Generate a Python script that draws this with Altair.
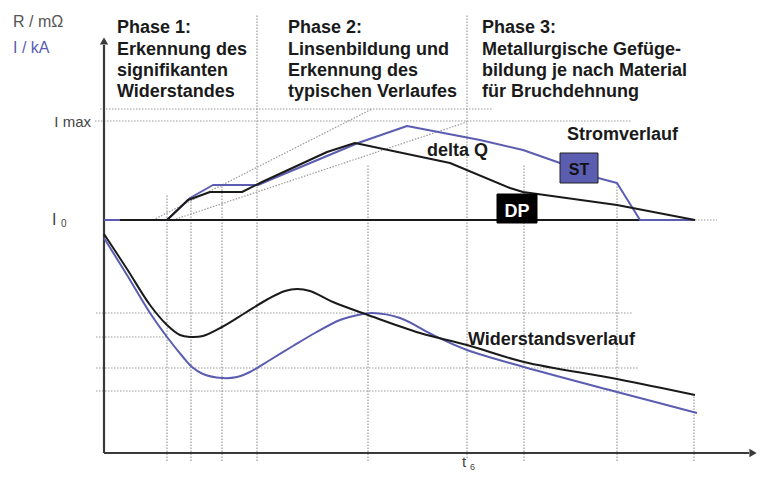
import altair as alt
import pandas as pd

BLUE = "#5a5db0"
INK = "#1a1a1a"
AXIS = "#3a3a3a"
GUIDE = "#9a9a9a"
FONT = "Liberation Sans"

# time t measured from the vertical axis, value v measured above the time axis
# upper part: current (blue) and delta-Q reference (black)
cur_t = [0, 63, 86, 109, 154, 168, 254, 303, 376, 419, 456, 494, 513, 536, 591]
cur_v = [233, 233, 255, 268, 268, 274, 310, 327, 313, 303, 290, 275, 270, 233, 233]
dq_t = [16, 63, 84, 106, 138, 158, 223, 251, 346, 406, 419, 513, 591]
dq_v = [233, 233, 253, 261, 261, 271, 301, 310, 290, 265, 261, 248, 233]
base_t = [16, 591]
base_v = [233, 233]

# lower part: resistance curves
rref_t = [0, 23, 46, 63, 76, 86, 99, 118, 141, 164, 181, 193, 206, 229, 264, 316,
          363, 420, 513, 591]
rref_v = [219, 184, 148, 128, 118, 116, 117, 126, 140, 154, 162, 164, 162, 151, 138,
          120, 108, 91, 74, 58]
ract_t = [0, 23, 46, 63, 79, 88, 99, 118, 133, 146, 166, 189, 211, 236, 254, 268,
          296, 329, 363, 420, 513, 593]
ract_v = [215, 178, 140, 116, 96, 86, 79, 75, 76, 81, 93, 107, 120, 133, 138, 140,
          135, 118, 103, 86, 61, 40]

# dotted guides
h_level = [344, 332, 140, 116, 85, 62, 233]
h_from = [-4, -9, -8, -8, -8, -8, 591]
h_to = [388, 528, 528, 63, 535, 535, 613]
v_time = [63, 87, 118, 153, 264, 363, 420, 513, 590]
v_from = [-8, -8, -8, -8, -8, -5, -8, -8, -8]
v_to = [258, 255, 268, 438, 288, 438, 288, 270, 58]
d_t1 = [49, 69]
d_v1 = [233, 233]
d_t2 = [268, 363]
d_v2 = [344, 331]

xs = alt.Scale(domain=[-96, 653], nice=False, zero=False)
ys = alt.Scale(domain=[-18, 445], nice=False, zero=False)


def line(t, v, color, width, interp="linear"):
    df = pd.DataFrame({"t": t, "v": v, "i": list(range(len(t)))})
    return alt.Chart(df).mark_line(
        color=color, strokeWidth=width, interpolate=interp, strokeJoin="round"
    ).encode(
        x=alt.X("t:Q", scale=xs, axis=None),
        y=alt.Y("v:Q", scale=ys, axis=None),
        order="i:Q",
    )


def rules(t1, v1, t2, v2, color, width, dash=None):
    df = pd.DataFrame({"t": t1, "v": v1, "t2": t2, "v2": v2})
    kw = dict(color=color, strokeWidth=width)
    if dash:
        kw["strokeDash"] = dash
    return alt.Chart(df).mark_rule(**kw).encode(
        x=alt.X("t:Q", scale=xs, axis=None),
        y=alt.Y("v:Q", scale=ys, axis=None),
        x2="t2:Q",
        y2="v2:Q",
    )


def texts(t, v, labels, size, color, weight="normal", align="left"):
    df = pd.DataFrame({"t": t, "v": v, "label": labels})
    return alt.Chart(df).mark_text(
        align=align, baseline="alphabetic", font=FONT, fontSize=size,
        fontWeight=weight, color=color,
    ).encode(
        x=alt.X("t:Q", scale=xs, axis=None),
        y=alt.Y("v:Q", scale=ys, axis=None),
        text="label:N",
    )


def box(t1, t2, v1, v2, fill, stroke):
    df = pd.DataFrame({"t": [t1], "t2": [t2], "v": [v1], "v2": [v2]})
    return alt.Chart(df).mark_rect(fill=fill, stroke=stroke, strokeWidth=1).encode(
        x=alt.X("t:Q", scale=xs, axis=None),
        x2="t2:Q",
        y=alt.Y("v:Q", scale=ys, axis=None),
        y2="v2:Q",
    )


def arrow(t, v, shape):
    df = pd.DataFrame({"t": [t], "v": [v]})
    return alt.Chart(df).mark_point(
        shape=shape, filled=True, size=70, color=AXIS, opacity=1
    ).encode(
        x=alt.X("t:Q", scale=xs, axis=None),
        y=alt.Y("v:Q", scale=ys, axis=None),
    )


dash = [1.5, 1.5]
layers = [
    rules(h_from, h_level, h_to, h_level, GUIDE, 1.2, dash),
    rules(v_time, v_from, v_time, v_to, GUIDE, 1.2, dash),
    rules(d_t1, d_v1, d_t2, d_v2, GUIDE, 1.2, dash),
    # axes
    rules([0, 0], [0, 0], [0, 645], [408, 0], AXIS, 2.2),
    arrow(0, 412, "triangle-up"),
    arrow(649, 0, "triangle-right"),
    line(base_t, base_v, INK, 2),
    line(cur_t, cur_v, BLUE, 2),
    line(dq_t, dq_v, INK, 2),
    line(ract_t, ract_v, BLUE, 2, "catmull-rom"),
    line(rref_t, rref_v, INK, 2, "catmull-rom"),
    box(393, 433, 259, 230, "#000000", "#000000"),
    box(456, 494, 300, 270, BLUE, "#222222"),
    texts([413], [236], ["DP"], 18, "#ffffff", "bold", "center"),
    texts([475], [278], ["ST"], 16, "#111111", "bold", "center"),
    # axis labels
    texts([-91], [426], ["R / mΩ"], 16, "#555555"),
    texts([-91], [400], ["I / kA"], 16, BLUE),
    texts([-13], [326], ["I max"], 15, "#444444", align="right"),
    texts([-52], [228], ["I"], 16, "#444444"),
    texts([-43], [226], ["0"], 10, "#444444"),
    texts([358], [-14], ["t"], 15, "#444444"),
    texts([366], [-17], ["6"], 9, "#444444"),
    # phase descriptions
    texts([13] * 4, [420, 398.5, 377.5, 356],
          ["Phase 1:", "Erkennung des", "signifikanten", "Widerstandes"],
          18, INK, "bold"),
    texts([184] * 4, [420, 398.5, 377.5, 356],
          ["Phase 2:", "Linsenbildung und", "Erkennung des", "typischen Verlaufes"],
          18, INK, "bold"),
    texts([378] * 4, [420, 398.5, 377.5, 356],
          ["Phase 3:", "Metallurgische Gefüge-", "bildung je nach Material",
           "für Bruchdehnung"],
          18, INK, "bold"),
    texts([323], [297], ["delta Q"], 18, INK, "bold"),
    texts([463], [313], ["Stromverlauf"], 18, INK, "bold"),
    texts([364], [108], ["Widerstandsverlauf"], 18, INK, "bold"),
]

chart = alt.layer(*layers).properties(
    width=749, height=463, padding=0, autosize=alt.AutoSizeParams(type="none")
).configure_view(stroke=None)

chart.save("out.html", embed_options={"renderer": "svg", "actions": False})
